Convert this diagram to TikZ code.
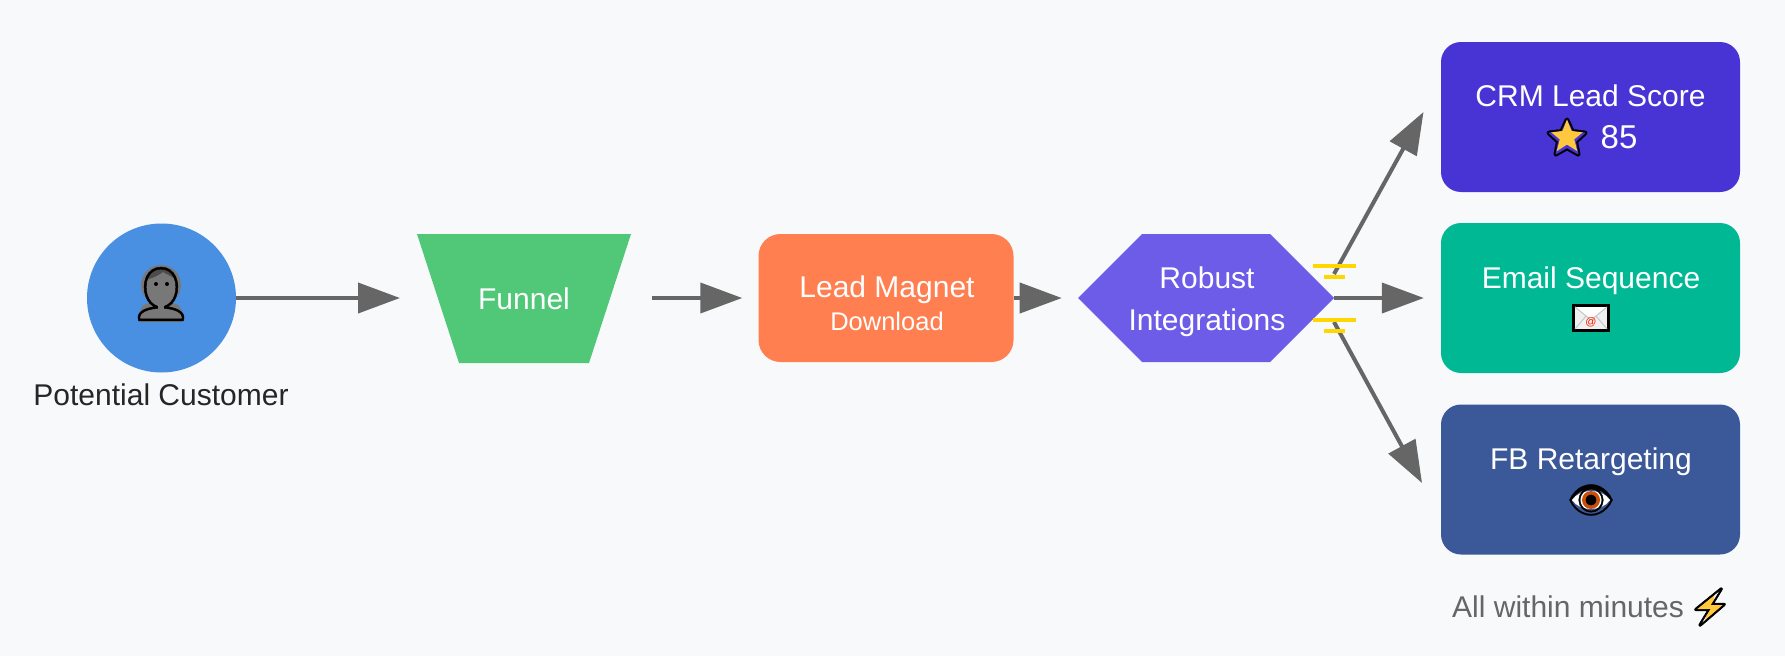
\documentclass[tikz,border=0pt]{standalone}
\usepackage{fontspec}
\setmainfont{Liberation Sans}
\newfontfamily\emojifont[FakeBold=1.6]{Noto Emoji}
\newfontfamily\emojithin[FakeBold=0.8]{Noto Emoji}
\usepackage{xcolor}
\usetikzlibrary{positioning,shapes.geometric,shapes.symbols,arrows.meta,calc}

\definecolor{pagebg}{HTML}{F8F9FA}
\definecolor{customerblue}{HTML}{4A90E2}
\definecolor{funnelgreen}{HTML}{50C878}
\definecolor{magnetorange}{HTML}{FF7F50}
\definecolor{hexviolet}{HTML}{6C5CE7}
\definecolor{crmindigo}{HTML}{4834D4}
\definecolor{emailteal}{HTML}{00B894}
\definecolor{fbblue}{HTML}{3B5998}
\definecolor{flowgray}{HTML}{666666}
\definecolor{sparkyellow}{HTML}{FFD700}
\definecolor{emojiyellow}{HTML}{FFC83D}
\definecolor{emojigray}{HTML}{787878}
\definecolor{irisorange}{HTML}{C8500A}

\tikzset{
  lbl/.style={font=\fontsize{30}{36}\selectfont,inner sep=0pt,text=white},
  icon/.style={font=\emojifont,inner sep=0pt,text=black},
  destbox/.style={rectangle,rounded corners=20pt,minimum width=299pt,minimum height=150pt,inner sep=0pt},
  flow/.style={draw=flowgray,line width=4pt,-{Triangle[length=42pt,width=30pt]}},
  sparkbar/.style={draw=sparkyellow,line width=4.5pt}
}

\begin{document}
\begin{tikzpicture}[x=1pt,y=-1pt]
  \fill[pagebg] (0,0) rectangle (1785,656);

\node (customer) at (161.5,298) [circle,fill=customerblue,minimum size=149pt,inner sep=0pt] {};
  % colour under the glyph
  \fill[emojigray] (161,285) ellipse (20 and 20);
  \fill[emojigray] (140,322) -- (140,312) .. controls (141,304) and (148,302) .. (161,302) .. controls (174,302) and (181,304) .. (182,312) -- (182,322) -- cycle;
  \fill[black!70] (146,280) .. controls (148,264) and (174,264) .. (176,280) .. controls (172,276) and (166,274) .. (163,272) .. controls (158,276) and (152,278) .. (146,280) -- cycle;
\node (customerface) at (161,294) [icon,font=\emojithin\fontsize{53}{53}\selectfont] {^^^^^^01f464};
  \fill[black] (156,284) circle (2);
  \fill[black] (167,284) circle (2);
\node (customerlbl) at (161,395) [lbl,text=black!85] {Potential Customer};

  \fill[funnelgreen] (417,234) -- (631,234) -- (589,363) -- (459,363) -- cycle;
\node (funnel) at (524,298.5) [lbl] {Funnel};
\coordinate (funnelin) at (400,298);
\coordinate (funnelout) at (652,298);

\node (magnet) at (886,298) [rectangle,rounded corners=22pt,minimum width=255pt,minimum height=128pt,inner sep=0pt,fill=magnetorange] {};
\node (magnettitle) at (887,289.5) [lbl] {Lead Magnet};
\node (magnetsub) at (887,321) [lbl,font=\fontsize{25.5}{30}\selectfont] {Download};

\node (hub) at (1206,298) [signal,signal to=west and east,signal pointer angle=90,minimum width=256pt,minimum height=128pt,inner sep=0pt,fill=hexviolet] {};
\node (hubtop) at (1207,278) [lbl] {Robust};
\node (hubbottom) at (1207,322.5) [lbl] {Integrations};

\node (crm) at (1590.5,117) [destbox,fill=crmindigo] {};
\node (crmtitle) at (1590.5,95.5) [lbl] {CRM Lead Score};
\node (crmfill) at (1567,137) [star,star points=5,star point ratio=2.3,minimum size=35pt,inner sep=0pt,fill=emojiyellow] {};
\node (crmstar) at (1567,137) [icon,font=\emojithin\fontsize{38}{38}\selectfont] {^^^^2b50};
\node (crmscore) at (1619,137) [lbl,font=\fontsize{33}{40}\selectfont] {85};

\node (email) at (1590.5,298) [destbox,fill=emailteal] {};
\node (emailtitle) at (1591,280.5) [lbl] {Email Sequence};
  \draw[fill=black!6,line width=2.5pt] (1573.5,305.5) rectangle (1608.5,330.5);
  \fill[white] (1575,307) -- (1591,320) -- (1607,307) -- cycle;
  \draw[black!22,line width=1pt] (1575,307) -- (1591,320) -- (1607,307) (1575,329) -- (1586,316) (1607,329) -- (1596,316);
\node (emailat) at (1591,322.5) [lbl,font=\fontsize{11}{11}\selectfont,text=red!80!orange] {@};

\node (fb) at (1590.5,479.5) [destbox,fill=fbblue] {};
\node (fbtitle) at (1591,462) [lbl] {FB Retargeting};
  \fill[white] (1572,500) .. controls (1580,488) and (1602,488) .. (1610,500) .. controls (1602,512) and (1580,512) .. (1572,500) -- cycle;
  \fill[irisorange] (1591,500) circle (9);
\node (fbicon) at (1591,500) [icon,font=\emojithin\fontsize{38}{38}\selectfont] {^^^^^^01f441};

\node (minutes) at (1452,607) [lbl,anchor=west,text=flowgray] {All within minutes};
  \fill[emojiyellow] (1715,592) -- (1696,609) -- (1708,611) -- (1704,623) -- (1725,604) -- (1713,603) -- cycle;
\node (bolt) at (1710,607) [icon,font=\emojifont\fontsize{38}{38}\selectfont] {^^^^26a1};

\coordinate (hubup) at (1334,274);
\coordinate (hubdown) at (1334,322);
\coordinate (crmtip) at (1423.5,112);
\coordinate (fbtip) at (1422,483);

\draw[flow] (customer) -- (funnelin);
\draw[flow,shorten >=16pt] (funnelout) -- (magnet.west);
\draw[flow,shorten >=16pt] (magnet.east) -- (hub.west);
\draw[flow,shorten >=17pt] (hub.east) -- (email.west);
\draw[flow] (hubup) -- (crmtip);
\draw[flow] (hubdown) -- (fbtip);

  \draw[sparkbar] (1313,266) -- (1356,266);
  \draw[sparkbar] (1324,277) -- (1345,277);
  \draw[sparkbar] (1313,320) -- (1356,320);
  \draw[sparkbar] (1324,331) -- (1345,331);
\end{tikzpicture}
\end{document}
